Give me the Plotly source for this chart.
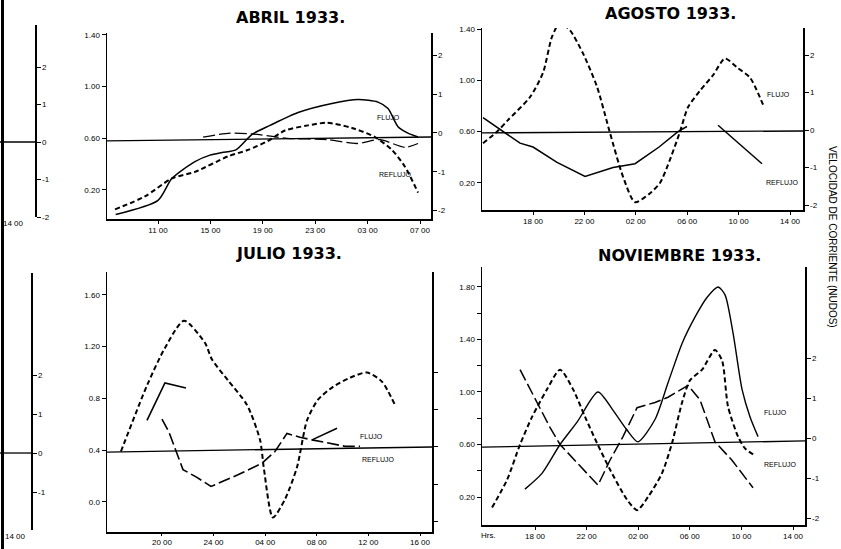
import plotly.graph_objects as go

W, H = 841, 549

# ---------------- DATA ----------------
# ABRIL 1933 (hours since 00:00 of first day; left-axis units)
abril_solid_h = [7.77, 11.0, 12.07, 13.82, 14.97, 15.89, 16.95, 18.18, 19.55, 21.69, 24.28, 26.27, 27.79, 28.56, 29.32, 30.08, 30.85]
abril_solid_v = [0.01, 0.12, 0.29, 0.42, 0.47, 0.49, 0.51, 0.63, 0.70, 0.80, 0.87, 0.90, 0.88, 0.83, 0.69, 0.64, 0.61]
abril_dash_h = [7.72, 10.0, 12.07, 13.82, 16.34, 17.87, 19.40, 20.69, 22.45, 23.90, 25.81, 27.56, 28.86, 29.85, 30.85]
abril_dash_v = [0.05, 0.15, 0.29, 0.34, 0.46, 0.51, 0.58, 0.66, 0.70, 0.72, 0.68, 0.61, 0.51, 0.38, 0.18]
abril_long_h = [14.44, 16.50, 18.56, 20.85, 23.90, 26.19, 27.95, 29.85, 30.85]
abril_long_v = [0.61, 0.64, 0.63, 0.60, 0.59, 0.56, 0.59, 0.53, 0.56]

# AGOSTO 1933
agosto_dash_h = [14.11, 15.20, 16.05, 17.77, 18.78, 19.48, 20.10, 20.88, 21.89, 22.98, 23.99, 25.00, 25.94, 27.11, 27.88, 28.50, 29.44, 30.06, 31.00, 32.01, 32.94, 33.88, 34.89, 35.90]
agosto_dash_v = [0.51, 0.60, 0.69, 0.87, 1.06, 1.34, 1.45, 1.39, 1.21, 0.95, 0.59, 0.25, 0.05, 0.12, 0.20, 0.34, 0.60, 0.79, 0.92, 1.04, 1.17, 1.10, 1.02, 0.81]
agosto_solid_a_h = [14.11, 15.28, 16.99, 18.00, 19.87, 22.05, 24.23, 25.94, 27.81, 29.28, 29.98]
agosto_solid_a_v = [0.71, 0.63, 0.51, 0.48, 0.36, 0.25, 0.32, 0.35, 0.48, 0.60, 0.64]
agosto_solid_b_h = [32.40, 35.82]
agosto_solid_b_v = [0.65, 0.35]

# JULIO 1933
julio_dash_h = [16.82, 18.84, 20.23, 21.71, 23.33, 23.88, 25.12, 26.59, 27.60, 27.91, 28.60, 29.53, 30.47, 31.24, 32.09, 33.26, 34.57, 35.89, 37.05, 38.06]
julio_dash_v = [0.39, 0.90, 1.19, 1.40, 1.23, 1.10, 0.94, 0.75, 0.48, 0.25, -0.12, 0.02, 0.27, 0.63, 0.79, 0.89, 0.96, 1.00, 0.93, 0.75]
julio_solid_a_h = [18.84, 20.23, 21.86]
julio_solid_a_v = [0.63, 0.92, 0.88]
julio_long_h = [20.00, 20.54, 21.63, 22.71, 23.80, 25.89, 27.75, 28.76, 29.69, 30.70, 31.63, 32.79, 34.19, 35.35]
julio_long_v = [0.64, 0.54, 0.25, 0.19, 0.12, 0.21, 0.30, 0.39, 0.53, 0.50, 0.48, 0.46, 0.43, 0.43]
julio_solid_b_h = [31.63, 33.57]
julio_solid_b_v = [0.48, 0.57]

# NOVIEMBRE 1933
nov_dash_h = [14.67, 15.83, 16.84, 17.77, 18.93, 19.94, 20.95, 21.88, 22.81, 23.81, 25.13, 25.91, 26.76, 27.84, 28.62, 29.40, 30.02, 30.95, 31.95, 32.50, 32.96, 33.74, 34.28, 34.98]
nov_dash_v = [0.12, 0.33, 0.60, 0.81, 1.02, 1.17, 1.02, 0.81, 0.61, 0.41, 0.18, 0.10, 0.20, 0.38, 0.61, 0.92, 1.09, 1.17, 1.32, 1.24, 0.89, 0.66, 0.57, 0.52]
nov_long_h = [16.84, 18.16, 19.16, 19.94, 21.26, 22.88, 23.81, 24.82, 25.91, 27.30, 28.31, 29.86, 30.79, 31.95, 33.27, 34.90]
nov_long_v = [1.17, 0.92, 0.73, 0.60, 0.46, 0.29, 0.48, 0.66, 0.88, 0.92, 0.96, 1.05, 0.94, 0.62, 0.48, 0.27]
nov_solid_h = [17.22, 18.54, 19.94, 21.26, 22.88, 24.05, 25.13, 25.98, 27.30, 28.31, 29.40, 30.40, 31.33, 32.19, 32.73, 33.35, 34.05, 34.67, 35.29]
nov_solid_v = [0.26, 0.38, 0.60, 0.77, 1.00, 0.86, 0.71, 0.62, 0.79, 1.07, 1.37, 1.57, 1.72, 1.80, 1.74, 1.45, 1.02, 0.81, 0.66]

# tick labels
abril_xticks = [11, 15, 19, 23, 27, 31]
abril_xlabels = ["11 00", "15 00", "19 00", "23 00", "03 00", "07 00"]
agosto_xticks = [18, 22, 26, 30, 34, 38]
agosto_xlabels = ["18 00", "22 00", "02 00", "06 00", "10 00", "14 00"]
julio_xticks = [20, 24, 28, 32, 36, 40]
julio_xlabels = ["20 00", "24 00", "04 00", "08 00", "12 00", "16 00"]
nov_xticks = [18, 22, 26, 30, 34, 38]
nov_xlabels = ["18 00", "22 00", "02 00", "06 00", "10 00", "14 00"]

left_ticks_a = [0.20, 0.60, 1.00, 1.40]
left_labels_a = ["0.20", "0.60", "1.00", "1.40"]
left_ticks_j = [0.0, 0.4, 0.8, 1.2, 1.6]
left_labels_j = ["0.0", "0.4", "0.8", "1.20", "1.60"]
left_ticks_n = [0.2, 0.4, 0.6, 0.8, 1.0, 1.2, 1.4, 1.6, 1.8]
left_labels_n = ["0.20", "", "0.60", "", "1.00", "", "1.40", "", "1.80"]
vel_ticks = [-2, -1, 0, 1, 2]
vel_labels = ["-2", "-1", "0", "1", "2"]

# ---------------- HELPERS ----------------
def xd(p0, p1):
    return [p0 / W, p1 / W]

def yd(top, bottom):
    return [1 - bottom / H, 1 - top / H]

FONT = "Liberation Sans"
TICKF = dict(family=FONT, size=8, color="black")

fig = go.Figure()

def line(x, y, xa, ya, dash, width, shape="spline", name=None):
    fig.add_trace(go.Scatter(
        x=x, y=y, xaxis=xa, yaxis=ya, mode="lines",
        line=dict(color="black", width=width, dash=dash, shape=shape, smoothing=0.7),
        showlegend=False, hoverinfo="skip", name=name))

def empty(xa, ya):
    fig.add_trace(go.Scatter(x=[], y=[], xaxis=xa, yaxis=ya, showlegend=False, hoverinfo="skip"))

SHORT = "5px,3px"
LONG = "12px,4px"

# ABRIL
line(abril_solid_h, abril_solid_v, "x", "y", "solid", 1.5, name="Flujo")
line(abril_dash_h, abril_dash_v, "x", "y", SHORT, 2.0, name="Marea")
line(abril_long_h, abril_long_v, "x", "y", LONG, 1.3, name="Reflujo")
empty("x", "y2")
# AGOSTO
line(agosto_dash_h, agosto_dash_v, "x2", "y3", SHORT, 2.0, name="Marea")
line(agosto_solid_a_h, agosto_solid_a_v, "x2", "y3", "solid", 1.5, shape="linear", name="Corriente")
line(agosto_solid_b_h, agosto_solid_b_v, "x2", "y3", "solid", 1.5, shape="linear", name="Corriente")
empty("x2", "y4")
# JULIO
line(julio_dash_h, julio_dash_v, "x3", "y5", SHORT, 2.0, name="Marea")
line(julio_solid_a_h, julio_solid_a_v, "x3", "y5", "solid", 1.6, shape="linear")
line(julio_long_h, julio_long_v, "x3", "y5", LONG, 1.6, shape="linear")
line(julio_solid_b_h, julio_solid_b_v, "x3", "y5", "solid", 1.6, shape="linear")
empty("x3", "y6")
# NOVIEMBRE
line(nov_dash_h, nov_dash_v, "x4", "y7", SHORT, 2.0)
line(nov_long_h, nov_long_v, "x4", "y7", LONG, 1.5, shape="linear")
line(nov_solid_h, nov_solid_v, "x4", "y7", "solid", 1.4)
empty("x4", "y8")
# strips
empty("x5", "y9")
empty("x6", "y10")

def xax(dom, rng, tv, tt, anchor, ticklen=3):
    return dict(domain=dom, range=rng, tickvals=tv, ticktext=tt, showline=True, linecolor="black",
                linewidth=1.5, ticks="outside", ticklen=ticklen, tickcolor="black", showgrid=False,
                zeroline=False, tickfont=TICKF, fixedrange=True, automargin=False, anchor=anchor)

def yax(dom, rng, tv, tt, anchor, side="left", overlaying=None, labels=True):
    d = dict(domain=dom, range=rng, tickvals=tv, ticktext=tt, showline=True, linecolor="black",
             linewidth=1.5, ticks="outside", ticklen=4, tickcolor="black", showgrid=False,
             zeroline=False, tickfont=TICKF, anchor=anchor, side=side, fixedrange=True,
             showticklabels=labels, automargin=False)
    if overlaying:
        d["overlaying"] = overlaying
    return d

layout = dict(
    template="none",
    width=W, height=H, margin=dict(l=0, r=0, t=0, b=0, pad=0),
    paper_bgcolor="white", plot_bgcolor="rgba(0,0,0,0)", showlegend=False,
    font=dict(family=FONT, color="black"),
)
# ABRIL
layout["xaxis"] = xax(xd(107, 431), [7.107, 31.84], abril_xticks, abril_xlabels, "y")
layout["yaxis"] = yax(yd(33, 219), [-0.0245, 1.415], left_ticks_a, left_labels_a, "x")
layout["yaxis2"] = yax(yd(33, 219), [-2.22, 2.58], vel_ticks, vel_labels, "x", "right", "y")
# AGOSTO
layout["xaxis2"] = xax(xd(482, 803), [14.03, 39.01], agosto_xticks, agosto_xlabels, "y3")
layout["yaxis3"] = yax(yd(28, 210), [-0.011, 1.408], left_ticks_a, left_labels_a, "x2")
layout["yaxis4"] = yax(yd(28, 210), [-2.13, 2.72], vel_ticks, vel_labels, "x2", "right", "y3")
# JULIO
layout["xaxis3"] = xax(xd(107, 432), [15.74, 40.93], julio_xticks, julio_xlabels, "y5", ticklen=2)
layout["yaxis5"] = yax(yd(272, 532), [-0.2319, 1.777], left_ticks_j, left_labels_j, "x3")
layout["yaxis6"] = yax(yd(272, 532), [-2.27, 4.67], vel_ticks, vel_labels, "x3", "right", "y5", labels=False)
# NOVIEMBRE
layout["xaxis4"] = xax(xd(482, 805), [13.89, 38.93], nov_xticks, nov_xlabels, "y7")
layout["yaxis7"] = yax(yd(267, 525), [-0.0133, 1.952], left_ticks_n, left_labels_n, "x4")
layout["yaxis8"] = yax(yd(267, 525), [-2.175, 4.275], vel_ticks, vel_labels, "x4", "right", "y7")
# left strips (neighbouring page)
layout["xaxis5"] = dict(domain=xd(0, 35), range=[0, 35], tickvals=[13], ticktext=["14 00"], showline=False,
                        ticks="", showgrid=False, zeroline=False, tickfont=TICKF, anchor="y9",
                        fixedrange=True, automargin=False)
layout["yaxis9"] = yax(yd(25, 217), [-2.0, 3.12], vel_ticks, vel_labels, "x5", "right")
layout["xaxis6"] = dict(domain=xd(0, 31), range=[0, 31], tickvals=[15], ticktext=["14 00"], showline=False,
                        ticks="", showgrid=False, zeroline=False, tickfont=TICKF, anchor="y10",
                        fixedrange=True, automargin=False)
layout["yaxis10"] = yax(yd(273, 530), [-1.974, 4.615], vel_ticks, vel_labels, "x6", "right")

fig.update_layout(**layout)

# reference (zero-current) lines
def hline(xref, yref, y0, y1, x0=0, x1=1):
    fig.add_shape(type="line", xref=xref, yref=yref, x0=x0, x1=x1, y0=y0, y1=y1,
                  line=dict(color="black", width=1.3))

hline("x domain", "y", 0.58, 0.61)
hline("x2 domain", "y3", 0.59, 0.605)
hline("x3 domain", "y5", 0.386, 0.425)
hline("x4 domain", "y7", 0.58, 0.627)
hline("x5 domain", "y9", 0, 0)
hline("x6 domain", "y10", 0, 0)
# page edge
fig.add_shape(type="line", xref="paper", yref="paper", x0=2.5 / W, x1=2.5 / W, y0=0, y1=1,
              line=dict(color="black", width=3))

# titles
TF = dict(family="DejaVu Sans", size=16, color="black")
def ann(text, px, py, font, angle=0):
    fig.add_annotation(text=text, x=px / W, y=1 - py / H, xref="paper", yref="paper",
                       showarrow=False, font=font, textangle=angle, xanchor="center", yanchor="middle")

ann("<b>ABRIL 1933.</b>", 290, 17.5, TF)
ann("<b>AGOSTO 1933.</b>", 670, 14, TF)
ann("<b>JULIO 1933.</b>", 289, 254, TF)
ann("<b>NOVIEMBRE 1933.</b>", 679, 255, TF)

LF = dict(family=FONT, size=7, color="black")
ann("FLUJO", 388, 118, LF)
ann("REFLUJO", 395, 174, LF)
ann("FLUJO", 778, 94, LF)
ann("REFLUJO", 782, 183, LF)
ann("FLUJO", 371, 436, LF)
ann("REFLUJO", 378, 459, LF)
ann("FLUJO", 775, 412, LF)
ann("REFLUJO", 780, 464, LF)
ann("Hrs.", 488, 535, dict(family=FONT, size=8, color="black"))
ann("VELOCIDAD DE CORRIENTE (NUDOS)", 833, 237, dict(family=FONT, size=10, color="black"), angle=90)

fig.write_html("out.html", config={"displayModeBar": False, "staticPlot": True},
               post_script="document.body.style.margin='0px';document.body.style.overflow='hidden';")
